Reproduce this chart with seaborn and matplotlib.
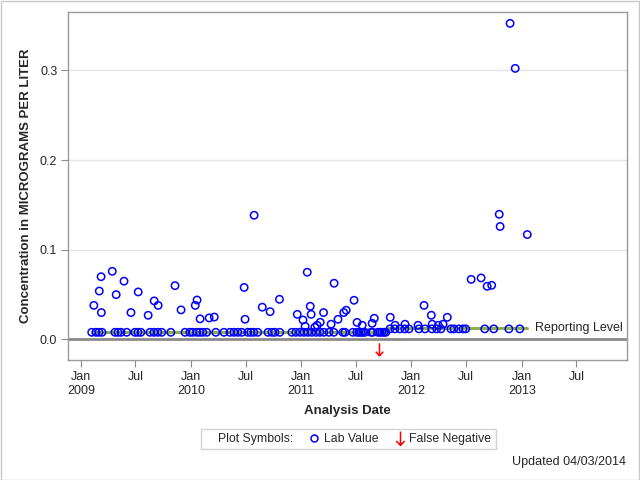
import pandas as pd
import numpy as np
import seaborn as sns
import matplotlib.pyplot as plt
from matplotlib.path import Path
from matplotlib.lines import Line2D
from matplotlib.patches import Rectangle

# detected lab values
detect_dates = ['2009-02-13', '2009-03-03', '2009-03-09', '2009-03-10', '2009-04-15', '2009-04-28',
                '2009-05-24', '2009-06-16', '2009-07-10', '2009-08-12', '2009-09-01', '2009-09-14',
                '2009-11-09', '2009-11-29', '2010-01-15', '2010-01-21', '2010-01-31', '2010-03-02',
                '2010-03-19', '2010-06-26', '2010-06-29', '2010-07-29', '2010-08-25', '2010-09-20',
                '2010-10-21', '2010-12-19', '2011-01-07', '2011-01-14', '2011-01-21', '2011-01-31',
                '2011-02-03', '2011-02-15', '2011-02-23', '2011-03-05', '2011-03-16', '2011-04-10',
                '2011-04-20', '2011-05-03', '2011-05-22', '2011-05-30', '2011-06-25', '2011-07-05',
                '2011-07-22', '2011-08-24', '2011-08-31', '2011-10-23', '2011-11-08', '2011-12-11',
                '2012-01-23', '2012-02-12', '2012-03-07', '2012-03-10', '2012-03-30', '2012-04-15',
                '2012-04-29', '2012-07-17', '2012-08-19', '2012-09-08', '2012-09-23', '2012-10-18',
                '2012-10-21', '2012-11-23', '2012-12-10', '2013-01-19']
detect_values = [0.038, 0.054, 0.070, 0.030, 0.076, 0.050,
                 0.065, 0.030, 0.053, 0.027, 0.043, 0.038,
                 0.060, 0.033, 0.038, 0.044, 0.023, 0.024,
                 0.025, 0.058, 0.0225, 0.1385, 0.036, 0.031,
                 0.0448, 0.028, 0.0217, 0.0147, 0.075, 0.037,
                 0.028, 0.0136, 0.0158, 0.0192, 0.030, 0.017,
                 0.0627, 0.0225, 0.030, 0.0326, 0.0437, 0.019,
                 0.0158, 0.018, 0.0236, 0.0247, 0.0158, 0.017,
                 0.0158, 0.038, 0.027, 0.017, 0.0158, 0.017,
                 0.0247, 0.067, 0.0686, 0.0593, 0.0604, 0.1396,
                 0.126, 0.3525, 0.3023, 0.117]

# non-detects, plotted at the reporting level
nd_dates_low = ['2009-02-06', '2009-02-20', '2009-03-02', '2009-03-12', '2009-04-24', '2009-05-04',
                '2009-05-14', '2009-06-02', '2009-06-29', '2009-07-09', '2009-07-19', '2009-08-18',
                '2009-08-31', '2009-09-13', '2009-09-26', '2009-10-26', '2009-12-12', '2009-12-28',
                '2010-01-07', '2010-01-20', '2010-01-30', '2010-02-09', '2010-02-22', '2010-03-24',
                '2010-04-20', '2010-05-10', '2010-05-23', '2010-06-05', '2010-06-18', '2010-07-08',
                '2010-07-18', '2010-07-28', '2010-08-10', '2010-09-13', '2010-09-26', '2010-10-06',
                '2010-10-22', '2010-12-01', '2010-12-14', '2010-12-28', '2011-01-10', '2011-01-23',
                '2011-02-05', '2011-02-19', '2011-03-04', '2011-03-17', '2011-04-03', '2011-04-19',
                '2011-05-19', '2011-05-26', '2011-06-21', '2011-07-04', '2011-07-11', '2011-07-18',
                '2011-07-24', '2011-07-31', '2011-08-20', '2011-08-26', '2011-09-12', '2011-09-19',
                '2011-09-25', '2011-10-02', '2011-10-08']
nd_dates_high = ['2011-10-22', '2011-11-07', '2011-11-24', '2011-12-10', '2011-12-24', '2012-01-26',
                 '2012-02-15', '2012-03-09', '2012-03-25', '2012-04-08', '2012-05-11', '2012-05-21',
                 '2012-06-06', '2012-06-20', '2012-06-29', '2012-08-31', '2012-09-30', '2012-11-19',
                 '2012-12-25']
rl_low = 0.008
rl_high = 0.0118

# reporting level step line
rl_dates = ['2009-02-06', '2011-10-12', '2013-01-19']
rl_values = [0.008, 0.0125, 0.0125]

# false negative
fn_dates = ['2011-09-16']
fn_values = [-0.0106]

sns.set_style('white')
plt.rcParams['font.family'] = ['Liberation Sans', 'DejaVu Sans']

lab = pd.DataFrame({
    'date': pd.to_datetime(detect_dates + nd_dates_low + nd_dates_high),
    'value': detect_values + [rl_low] * len(nd_dates_low) + [rl_high] * len(nd_dates_high),
})
rl = pd.DataFrame({'date': pd.to_datetime(rl_dates), 'value': rl_values})

fig = plt.figure(figsize=(6.4, 4.8), dpi=100)
ax = fig.add_axes([0.107, 0.25, 0.873, 0.7256])

for y in [0.1, 0.2, 0.3]:
    ax.axhline(y, color='#e4e4e4', lw=1, zorder=0)
ax.axhline(0, color='#8a8a8a', lw=2, zorder=1)

sns.lineplot(data=rl, x='date', y='value', drawstyle='steps-post', color='#8db04a', lw=2.2,
             errorbar=None, ax=ax, zorder=2)
sns.scatterplot(data=lab, x='date', y='value', marker='o', s=28, facecolors='none',
                edgecolor='#0000ff', linewidth=1.1, ax=ax, zorder=3)

arrow = Path([(0, 1), (0, -1), (-0.6, -0.35), (0, -1), (0.6, -0.35)],
             [Path.MOVETO, Path.LINETO, Path.MOVETO, Path.LINETO, Path.LINETO])
ax.plot(pd.to_datetime(fn_dates), fn_values, ls='none', marker=arrow, ms=9,
        mfc='none', mec='red', mew=1.1, zorder=3)

ax.text(pd.Timestamp('2013-02-12'), 0.0125, 'Reporting Level', fontsize=9, va='center', ha='left')

ax.set_ylim(-0.0229, 0.3655)
ax.set_xlim(pd.Timestamp('2008-11-21'), pd.Timestamp('2013-12-16'))
ax.set_yticks([0.0, 0.1, 0.2, 0.3])
ax.set_yticklabels(['0.0', '0.1', '0.2', '0.3'])
xt = pd.date_range('2009-01-01', '2013-07-01', freq='6MS')
ax.set_xticks(xt)
ax.set_xticklabels([f'Jan\n{d.year}' if d.month == 1 else 'Jul' for d in xt])
ax.tick_params(axis='both', labelsize=9, length=5, color='#8a8a8a', direction='out',
               bottom=True, left=True, pad=3)
for s in ax.spines.values():
    s.set_color('#9a9a9a')
    s.set_linewidth(1)

ax.set_xlabel('Analysis Date', fontsize=9.5, fontweight='bold', labelpad=6)
ax.set_ylabel('Concentration in MICROGRAMS PER LITER', fontsize=9.5, fontweight='bold', labelpad=6)

handles = [Line2D([], [], ls='none'),
           Line2D([], [], ls='none', marker='o', ms=5, mfc='none', mec='#0000ff', mew=1.1),
           Line2D([], [], ls='none', marker=arrow, ms=10, mfc='none', mec='red', mew=1.1)]
leg = fig.legend(handles, ['Plot Symbols:', 'Lab Value', 'False Negative'], ncol=3,
                 loc='center', bbox_to_anchor=(0.544, 0.085), fontsize=8.8, frameon=True,
                 fancybox=False, handlelength=0.6, handletextpad=0.5, columnspacing=1.4,
                 borderpad=0.35, borderaxespad=0)
leg.get_frame().set_edgecolor('#c8c8c8')
leg.get_frame().set_linewidth(1)

fig.text(0.978, 0.037, 'Updated 04/03/2014', fontsize=9, ha='right', va='center')
fig.patches.append(Rectangle((0.001, 0.001), 0.997, 0.997, transform=fig.transFigure,
                             fill=False, edgecolor='#c8c8c8', lw=1))

fig.savefig('out.png', dpi=100)
